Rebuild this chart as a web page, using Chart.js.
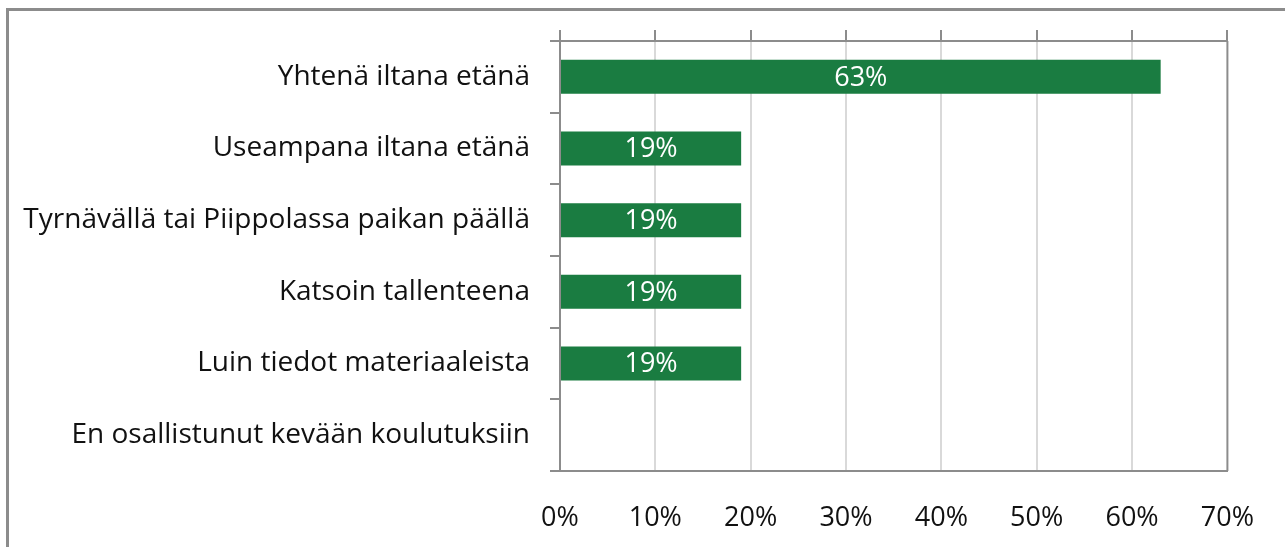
<!DOCTYPE html>
<html>
<head>
<meta charset="utf-8">
<script src="https://cdn.jsdelivr.net/npm/chart.js@4.4.1/dist/chart.umd.min.js"></script>
<style>
  html, body { margin: 0; padding: 0; background: #fff; }
  canvas { display: block; }
</style>
</head>
<body>
<canvas id="grafico" width="1285" height="547"></canvas>
<script>
var categorias = [
  'Yhtenä iltana etänä',
  'Useampana iltana etänä',
  'Tyrnävällä tai Piippolassa paikan päällä',
  'Katsoin tallenteena',
  'Luin tiedot materiaaleista',
  'En osallistunut kevään koulutuksiin'
];
var valores = [63, 19, 19, 19, 19, 0];
var ticksX = [0, 10, 20, 30, 40, 50, 60, 70];

var FUENTE = '"Open Sans", sans-serif';
var GRIS = '#8c8c8c';
var VERDE = '#1a7c41';

// marco exterior + borde del area del grafico
var marcoPlugin = {
  id: 'marco',
  beforeDraw: function(chart) {
    var ctx = chart.ctx;
    ctx.save();
    ctx.strokeStyle = GRIS;
    ctx.lineWidth = 3;
    ctx.strokeRect(7.5, 9.5, chart.width + 20, chart.height + 20);
    ctx.restore();
  },
  afterDraw: function(chart) {
    var a = chart.chartArea;
    var ctx = chart.ctx;
    ctx.save();
    ctx.strokeStyle = GRIS;
    ctx.lineWidth = 2;
    ctx.beginPath();
    ctx.moveTo(a.right, a.top);
    ctx.lineTo(a.right, a.bottom);
    ctx.stroke();
    ctx.restore();
  }
};

// etiquetas blancas dentro de las barras
var etiquetasPlugin = {
  id: 'etiquetas',
  afterDatasetsDraw: function(chart) {
    var ctx = chart.ctx;
    var meta = chart.getDatasetMeta(0);
    ctx.save();
    ctx.fillStyle = '#ffffff';
    ctx.font = '27px ' + FUENTE;
    ctx.textAlign = 'center';
    ctx.textBaseline = 'middle';
    meta.data.forEach(function(bar, i) {
      var v = valores[i];
      if (!v) return;
      ctx.fillText(v + '%', (bar.x + bar.base) / 2, bar.y + 1);
    });
    ctx.restore();
  }
};

var ctx = document.getElementById('grafico').getContext('2d');
var grafico = new Chart(ctx, {
  type: 'bar',
  data: {
    labels: categorias,
    datasets: [{
      data: valores,
      backgroundColor: VERDE,
      borderWidth: 0,
      barPercentage: 0.475,
      categoryPercentage: 1
    }]
  },
  options: {
    indexAxis: 'y',
    responsive: false,
    animation: false,
    layout: { padding: { top: 30, right: 54, bottom: 0, left: 0 } },
    plugins: {
      legend: { display: false },
      tooltip: { enabled: false }
    },
    scales: {
      x: {
        position: 'bottom',
        min: 0,
        max: 70,
        afterBuildTicks: function(scale) {
          scale.ticks = ticksX.map(function(v) { return { value: v }; });
        },
        afterFit: function(scale) { scale.height = 76; },
        grid: {
          color: function(c) {
            return (c.tick && (c.tick.value === 0 || c.tick.value === 70)) ? 'rgba(0,0,0,0)' : '#d9d9d9';
          },
          lineWidth: 2,
          drawTicks: false
        },
        border: { display: true, color: GRIS, width: 2 },
        ticks: {
          padding: 31,
          color: '#111',
          font: { family: FUENTE, size: 27 },
          callback: function(v) { return v + '%'; }
        }
      },
      x2: {
        position: 'top',
        min: 0,
        max: 70,
        afterBuildTicks: function(scale) {
          scale.ticks = ticksX.map(function(v) { return { value: v }; });
        },
        afterFit: function(scale) { scale.height = 11; },
        grid: {
          drawOnChartArea: false,
          drawTicks: true,
          tickLength: 11,
          tickColor: GRIS,
          lineWidth: 2
        },
        border: { display: true, color: GRIS, width: 2 },
        ticks: { display: false }
      },
      y: {
        position: 'left',
        afterFit: function(scale) { scale.width = 560; },
        grid: {
          offset: true,
          drawOnChartArea: false,
          drawTicks: true,
          tickLength: 10,
          tickColor: GRIS,
          lineWidth: 2
        },
        border: { display: true, color: GRIS, width: 2 },
        ticks: {
          padding: 20,
          color: '#111',
          font: { family: FUENTE, size: 28 }
        }
      }
    }
  },
  plugins: [marcoPlugin, etiquetasPlugin]
});
</script>
</body>
</html>
